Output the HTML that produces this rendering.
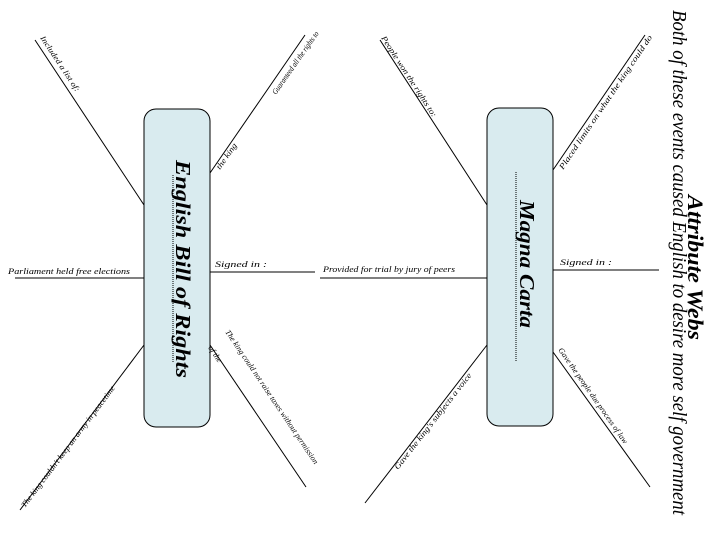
<!DOCTYPE html>
<html><head><meta charset="utf-8"><style>
html,body{margin:0;padding:0;background:#fff;}
svg{display:block;}
text{font-family:"Liberation Serif",serif;font-style:italic;fill:#000;}
.s{font-size:8px;}
</style></head><body>
<svg width="720" height="540" viewBox="0 0 720 540" xmlns="http://www.w3.org/2000/svg">
<g stroke="#000" stroke-width="1" fill="none">
<!-- box1 lines -->
<line x1="35" y1="40" x2="144" y2="205"/>
<line x1="305" y1="35" x2="210" y2="173"/>
<line x1="15" y1="278" x2="144" y2="278"/>
<line x1="210" y1="272" x2="315" y2="272"/>
<line x1="144" y1="345" x2="20" y2="510"/>
<line x1="210" y1="345" x2="306" y2="487"/>
<!-- box2 lines -->
<line x1="320" y1="278" x2="487" y2="278"/>
<line x1="380" y1="40" x2="487" y2="205"/>
<line x1="645" y1="35" x2="553" y2="170"/>
<line x1="553" y1="270" x2="659" y2="270"/>
<line x1="487" y1="345" x2="365" y2="503"/>
<line x1="553" y1="352" x2="650" y2="487"/>
</g>
<rect x="144" y="109" width="66" height="318" rx="12" fill="#d9ebef" stroke="#000"/>
<rect x="487" y="108" width="66" height="318" rx="12" fill="#d9ebef" stroke="#000"/>
<line x1="173" y1="175" x2="173" y2="362" stroke="#000" stroke-dasharray="1,1"/>
<line x1="516" y1="172" x2="516" y2="362" stroke="#000" stroke-dasharray="1,1"/>
<text transform="translate(176,160) rotate(90)" font-size="21" font-weight="bold" textLength="218" lengthAdjust="spacingAndGlyphs">English Bill of Rights</text>
<text transform="translate(520,200) rotate(90)" font-size="21" font-weight="bold" textLength="128" lengthAdjust="spacingAndGlyphs">Magna Carta</text>
<text transform="translate(688,195) rotate(90)" font-size="22" font-weight="bold" textLength="145" lengthAdjust="spacingAndGlyphs">Attribute Webs</text>
<text transform="translate(673,10) rotate(90)" font-size="20" textLength="505" lengthAdjust="spacingAndGlyphs">Both of these events caused English to desire more self government</text>
<!-- labels -->
<text class="s" transform="translate(40,38) rotate(56.5)" textLength="65" lengthAdjust="spacingAndGlyphs">Included a list of:</text>
<text class="s" transform="translate(276,95) rotate(-55)" textLength="75" lengthAdjust="spacingAndGlyphs">Guaranteed all the rights to</text>
<text class="s" transform="translate(220,170) rotate(-55)" textLength="30" lengthAdjust="spacingAndGlyphs">the king</text>
<text class="s" x="8" y="274" textLength="122" lengthAdjust="spacingAndGlyphs">Parliament held free elections</text>
<text class="s" x="215" y="267" textLength="52" lengthAdjust="spacingAndGlyphs">Signed in :</text>
<text class="s" transform="translate(25,508) rotate(-53)" textLength="150" lengthAdjust="spacingAndGlyphs">The king couldn't keep an army in peacetime</text>
<text class="s" transform="translate(225,332) rotate(56)" textLength="160" lengthAdjust="spacingAndGlyphs">The king could not raise taxes without permission</text>
<text class="s" transform="translate(208,348) rotate(56)">of the</text>
<text class="s" x="323" y="272" textLength="132" lengthAdjust="spacingAndGlyphs">Provided for trial by jury of peers</text>
<text class="s" transform="translate(381,38) rotate(57)" textLength="95" lengthAdjust="spacingAndGlyphs">People won the rights to:</text>
<text class="s" transform="translate(563,170) rotate(-56)" textLength="160" lengthAdjust="spacingAndGlyphs">Placed limits on what the king could do</text>
<text class="s" x="560" y="265" textLength="52" lengthAdjust="spacingAndGlyphs">Signed in :</text>
<text class="s" transform="translate(398,470) rotate(-52)" textLength="120" lengthAdjust="spacingAndGlyphs">Gave the king's subjects a voice</text>
<text class="s" transform="translate(558,350) rotate(55)" textLength="115" lengthAdjust="spacingAndGlyphs">Gave the people due process of law</text>
</svg>
</body></html>
